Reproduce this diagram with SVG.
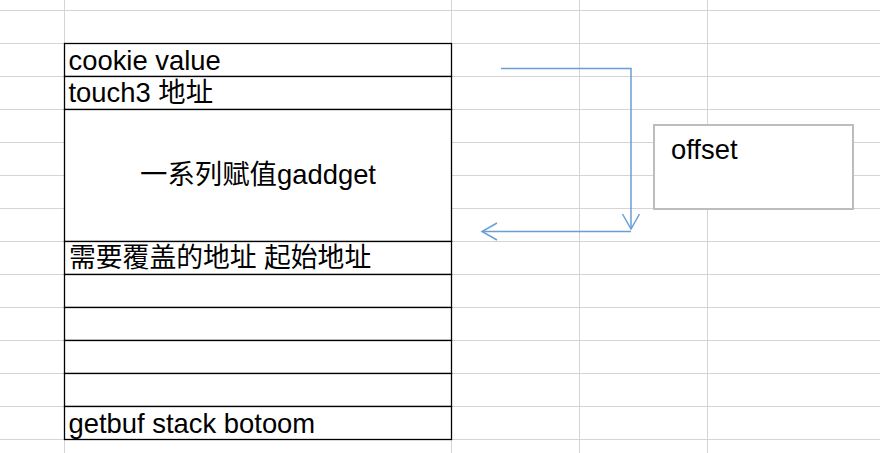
<svg xmlns="http://www.w3.org/2000/svg" width="880" height="453" viewBox="0 0 880 453">
<style>
.grid line{stroke:#d4d4d4;stroke-width:1}
.cell{fill:#fff;stroke:#000;stroke-width:1.3}
.t{font-family:"Liberation Sans","Noto Sans CJK SC",sans-serif;font-size:27.4px;fill:#000}
.conn{fill:none;stroke:#6a9fd6;stroke-width:1.5}
.box{fill:#fff;stroke:#bdbdbd;stroke-width:2}
</style>
<defs>
<marker id="arr" markerUnits="userSpaceOnUse" markerWidth="20" markerHeight="20" viewBox="-17 -10 20 20" refX="0" refY="0" orient="auto">
<path d="M-15,-8.5 L0,0 L-15,8.5" fill="none" stroke="#6a9fd6" stroke-width="1.5"/>
</marker>
</defs>
<rect width="880" height="453" fill="#fff"/>
<g class="grid" id="grid">
<line x1="0" y1="10.5" x2="880" y2="10.5"/>
<line x1="0" y1="43.5" x2="880" y2="43.5"/>
<line x1="0" y1="76.5" x2="880" y2="76.5"/>
<line x1="0" y1="109.5" x2="880" y2="109.5"/>
<line x1="0" y1="142.5" x2="880" y2="142.5"/>
<line x1="0" y1="175.5" x2="880" y2="175.5"/>
<line x1="0" y1="208.5" x2="880" y2="208.5"/>
<line x1="0" y1="241.5" x2="880" y2="241.5"/>
<line x1="0" y1="274.5" x2="880" y2="274.5"/>
<line x1="0" y1="307.5" x2="880" y2="307.5"/>
<line x1="0" y1="340.5" x2="880" y2="340.5"/>
<line x1="0" y1="373.5" x2="880" y2="373.5"/>
<line x1="0" y1="406.5" x2="880" y2="406.5"/>
<line x1="0" y1="439.5" x2="880" y2="439.5"/>
<line x1="64.5" y1="0" x2="64.5" y2="453"/>
<line x1="451.5" y1="0" x2="451.5" y2="453"/>
<line x1="579.5" y1="0" x2="579.5" y2="453"/>
<line x1="707.5" y1="0" x2="707.5" y2="453"/>
</g>
<g id="row-cookie"><rect class="cell" x="64.5" y="43.5" width="387" height="33"/><text class="t" x="68.5" y="70">cookie value</text></g>
<g id="row-touch3"><rect class="cell" x="64.5" y="76.5" width="387" height="33"/><text class="t" x="68.5" y="102">touch3 地址</text></g>
<g id="row-gadget"><rect class="cell" x="64.5" y="109.5" width="387" height="132"/><text class="t" x="258" y="184" text-anchor="middle">一系列赋值gaddget</text></g>
<g id="row-overwrite"><rect class="cell" x="64.5" y="241.5" width="387" height="33"/><text class="t" x="69" y="267" style="font-size:26.8px">需要覆盖的地址 起始地址</text></g>
<g id="row-empty1"><rect class="cell" x="64.5" y="274.5" width="387" height="33"/></g>
<g id="row-empty2"><rect class="cell" x="64.5" y="307.5" width="387" height="33"/></g>
<g id="row-empty3"><rect class="cell" x="64.5" y="340.5" width="387" height="33"/></g>
<g id="row-empty4"><rect class="cell" x="64.5" y="373.5" width="387" height="33"/></g>
<g id="row-bottom"><rect class="cell" x="64.5" y="406.5" width="387" height="33"/><text class="t" x="68.5" y="432.5">getbuf stack botoom</text></g>
<g id="offset"><rect class="box" x="654" y="125" width="199" height="84"/><text class="t" x="671" y="159">offset</text></g>
<g id="connectors">
<path class="conn" d="M501,68.5 H631 V229" marker-end="url(#arr)"/>
<path class="conn" d="M631,231.5 H482" marker-end="url(#arr)"/>
</g>
</svg>
